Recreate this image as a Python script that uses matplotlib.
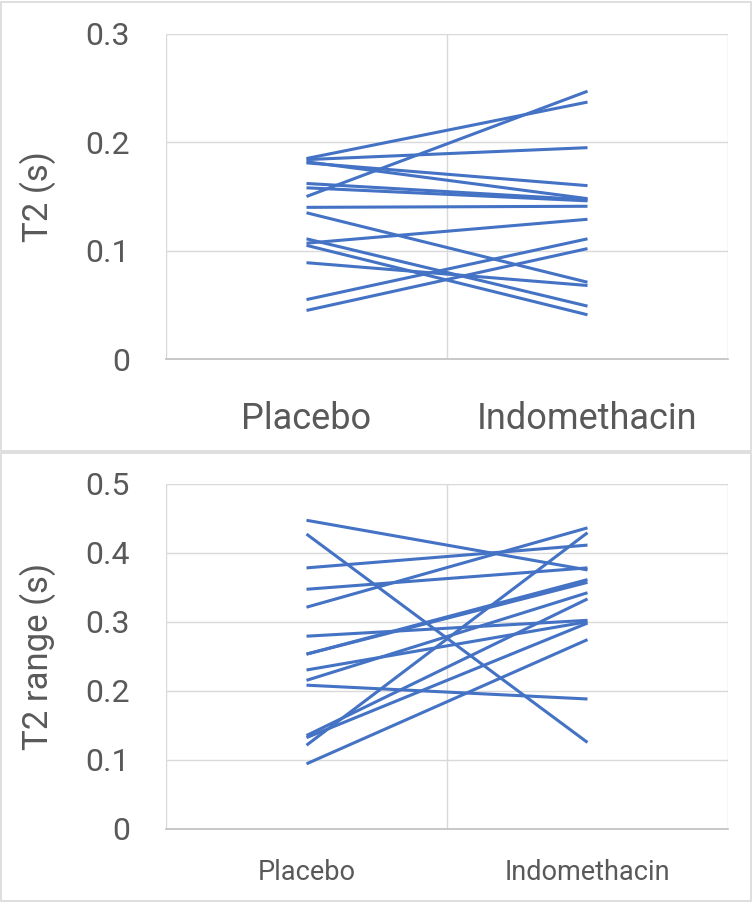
import matplotlib.pyplot as plt
from matplotlib.patches import Rectangle

plt.rcParams['font.family'] = ['Roboto', 'DejaVu Sans']

# Data (one line per subject)
groups = ['Placebo', 'Indomethacin']

placebo_t2 = [0.150, 0.185, 0.184, 0.181, 0.182, 0.162, 0.158, 0.140,
              0.135, 0.107, 0.111, 0.105, 0.089, 0.055, 0.045]
indo_t2 = [0.247, 0.237, 0.195, 0.160, 0.148, 0.147, 0.146, 0.141,
           0.071, 0.129, 0.049, 0.041, 0.068, 0.111, 0.102]

placebo_range = [0.447, 0.427, 0.378, 0.347, 0.321, 0.279, 0.253, 0.253,
                 0.230, 0.215, 0.208, 0.135, 0.132, 0.121, 0.094]
indo_range = [0.375, 0.125, 0.411, 0.378, 0.436, 0.302, 0.361, 0.357,
              0.300, 0.342, 0.188, 0.333, 0.298, 0.429, 0.274]

line_color = '#4472C4'
grid_color = '#D9D9D9'
text_color = '#595959'

fig = plt.figure(figsize=(7.52, 9.02), dpi=100)

# chart frames (Excel style)
fig.patches.append(Rectangle((1 / 752, 451 / 902), 750 / 752, 449 / 902,
                             transform=fig.transFigure, fill=False,
                             edgecolor=grid_color, lw=1.2))
fig.patches.append(Rectangle((1 / 752, 1 / 902), 750 / 752, 448 / 902,
                             transform=fig.transFigure, fill=False,
                             edgecolor=grid_color, lw=1.2))


def panel(rect, pla, ind, ymax, ylabel, xfont, xpad):
    ax = fig.add_axes(rect)
    for a, b in zip(pla, ind):
        ax.plot([0.5, 1.5], [a, b], color=line_color, lw=2.2,
                solid_capstyle='butt')
    ax.set_xlim(0, 2)
    ax.set_ylim(0, ymax)
    yt = [round(i * 0.1, 1) for i in range(int(round(ymax * 10)) + 1)]
    ax.set_yticks(yt)
    ax.set_yticklabels(['0' if v == 0 else f'{v:.1f}' for v in yt])
    for v in yt[1:]:
        ax.axhline(v, color=grid_color, lw=1.0, zorder=0)
    for v in [0, 1, 2]:
        ax.axvline(v, color=grid_color, lw=1.0, zorder=0)
    for s in ['top', 'right', 'left']:
        ax.spines[s].set_visible(False)
    ax.spines['bottom'].set_color('#BFBFBF')
    ax.spines['bottom'].set_linewidth(1.2)
    ax.set_xticks([0.5, 1.5])
    ax.set_xticklabels(groups)
    ax.tick_params(axis='x', length=0, labelsize=xfont, colors=text_color,
                   pad=xpad)
    ax.tick_params(axis='y', length=0, labelsize=23, colors=text_color,
                   pad=26)
    ax.set_ylabel(ylabel, fontsize=25, color=text_color)
    ax.yaxis.set_label_coords(-0.196, 0.5)
    return ax


panel([166 / 752, 1 - 359.3 / 902, 562 / 752, 325.6 / 902],
      placebo_t2, indo_t2, 0.3, 'T2 (s)', 26, 30)
panel([166 / 752, 1 - 828.7 / 902, 562 / 752, 345 / 902],
      placebo_range, indo_range, 0.5, 'T2 range (s)', 19.5, 22)

fig.savefig('out.png', dpi=100)
